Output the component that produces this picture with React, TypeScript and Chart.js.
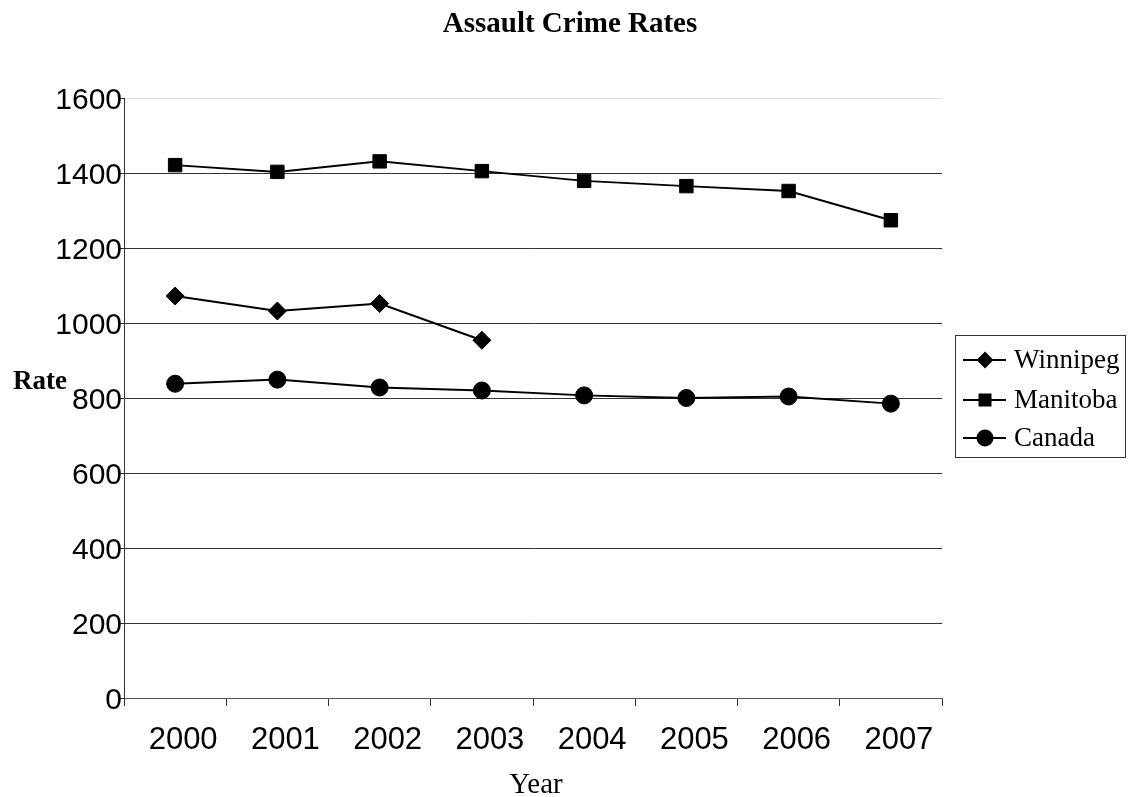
import React, { useEffect, useRef } from 'react';
import { Chart, registerables } from 'chart.js';

Chart.register(...registerables);

const years = ['2000', '2001', '2002', '2003', '2004', '2005', '2006', '2007'];
const winnipeg = [1072, 1032, 1052, 954, null, null, null, null];
const manitoba = [1421, 1403, 1431, 1405, 1379, 1365, 1352, 1274];
const canada = [838, 849, 828, 820, 807, 800, 804, 785];
const seriesNames = ['Winnipeg', 'Manitoba', 'Canada'];
const seriesMarkers = ['diamond', 'square', 'circle'];
const yMin = 0;
const yMax = 1600;
const yStep = 200;
const chartTitle = 'Assault Crime Rates';
const xTitle = 'Year';
const yTitle = 'Rate';

const SANS = '"Liberation Sans", Arial, sans-serif';
const SERIF = '"Liberation Serif", "Times New Roman", serif';

function drawMarker(ctx: CanvasRenderingContext2D, kind: string, x: number, y: number) {
  ctx.beginPath();
  if (kind === 'diamond') {
    const r = 8.5;
    ctx.moveTo(x, y - r);
    ctx.lineTo(x + r, y);
    ctx.lineTo(x, y + r);
    ctx.lineTo(x - r, y);
    ctx.closePath();
  } else if (kind === 'square') {
    const h = 6.5;
    ctx.rect(x - h, y - h, 2 * h, 2 * h);
  } else {
    ctx.arc(x, y, 8.5, 0, Math.PI * 2);
  }
  ctx.fillStyle = '#000';
  ctx.fill();
}

const decorPlugin = {
  id: 'decor',
  afterDraw(chart: any) {
    const ctx: CanvasRenderingContext2D = chart.ctx;
    ctx.save();
    ctx.fillStyle = '#000';
    ctx.font = `bold 29px ${SERIF}`;
    ctx.textAlign = 'center';
    ctx.textBaseline = 'alphabetic';
    ctx.fillText(chartTitle, 570, 32);
    ctx.font = `bold 27px ${SERIF}`;
    ctx.textAlign = 'left';
    ctx.fillText(yTitle, 13, 389);
    ctx.font = `29px ${SERIF}`;
    ctx.textAlign = 'center';
    ctx.fillText(xTitle, 536, 793);
    const bx = 955.5, by = 335.5, bw = 170, bh = 122;
    ctx.fillStyle = '#fff';
    ctx.fillRect(bx, by, bw, bh);
    ctx.strokeStyle = '#333';
    ctx.lineWidth = 1;
    ctx.strokeRect(bx, by, bw, bh);
    const rows = [360, 400, 438];
    seriesNames.forEach((name, i) => {
      const y = rows[i];
      ctx.beginPath();
      ctx.strokeStyle = '#000';
      ctx.lineWidth = 2;
      ctx.moveTo(963, y);
      ctx.lineTo(1006, y);
      ctx.stroke();
      drawMarker(ctx, seriesMarkers[i], 985, y);
      ctx.fillStyle = '#000';
      ctx.font = `27px ${SERIF}`;
      ctx.textAlign = 'left';
      ctx.textBaseline = 'middle';
      ctx.fillText(name, 1014, y + 1);
    });
    ctx.restore();
  },
};

export default function App() {
  const ref = useRef<HTMLCanvasElement | null>(null);
  useEffect(() => {
    if (!ref.current) return;
    const chart = new Chart(ref.current, {
      type: 'line',
      data: {
        labels: years,
        datasets: [
          {
            label: seriesNames[0],
            data: winnipeg,
            borderColor: '#000',
            backgroundColor: '#000',
            borderWidth: 2,
            pointStyle: 'rectRot',
            pointRadius: 9,
            pointBorderWidth: 1,
            pointBackgroundColor: '#000',
            pointBorderColor: '#000',
            spanGaps: false,
          },
          {
            label: seriesNames[1],
            data: manitoba,
            borderColor: '#000',
            backgroundColor: '#000',
            borderWidth: 2,
            pointStyle: 'rect',
            pointRadius: 9.5,
            pointBorderWidth: 1,
            pointBackgroundColor: '#000',
            pointBorderColor: '#000',
          },
          {
            label: seriesNames[2],
            data: canada,
            borderColor: '#000',
            backgroundColor: '#000',
            borderWidth: 2,
            pointStyle: 'circle',
            pointRadius: 8.5,
            pointBorderWidth: 1,
            pointBackgroundColor: '#000',
            pointBorderColor: '#000',
          },
        ],
      },
      options: {
        responsive: false,
        animation: false,
        layout: { padding: { top: 98, left: 0, right: 196, bottom: 0 } },
        plugins: {
          legend: { display: false },
          title: { display: false },
          tooltip: { enabled: false },
        },
        scales: {
          x: {
            type: 'category',
            offset: true,
            grid: {
              offset: true,
              drawOnChartArea: false,
              drawTicks: true,
              tickLength: 8,
              color: '#333',
              tickColor: '#333',
            },
            border: { color: '#555', width: 1 },
            ticks: {
              color: '#000',
              font: { family: SANS, size: 31 },
              padding: 16,
              labelOffset: 8,
              autoSkip: false,
              maxRotation: 0,
            },
            afterFit(scale: any) {
              scale.height = 99;
            },
          },
          y: {
            min: yMin,
            max: yMax,
            grid: {
              color: (c: any) => (c.tick && c.tick.value === yMax ? '#e0e0e0' : '#333'),
              tickColor: '#333',
              tickLength: 5,
              drawTicks: true,
            },
            border: { color: '#333', width: 1 },
            ticks: {
              stepSize: yStep,
              color: '#000',
              font: { family: SANS, size: 30 },
              padding: -3,
              labelOffset: 3,
              callback: (v: any) => String(v),
            },
            afterFit(scale: any) {
              scale.width = 124;
            },
          },
        },
      },
      plugins: [decorPlugin],
    } as any);
    return () => chart.destroy();
  }, []);
  return (
    <div style={{ position: 'absolute', left: 0, top: 0, width: 1138, height: 797, background: '#fff' }}>
      <canvas ref={ref} width={1138} height={797} style={{ display: 'block' }} />
    </div>
  );
}
